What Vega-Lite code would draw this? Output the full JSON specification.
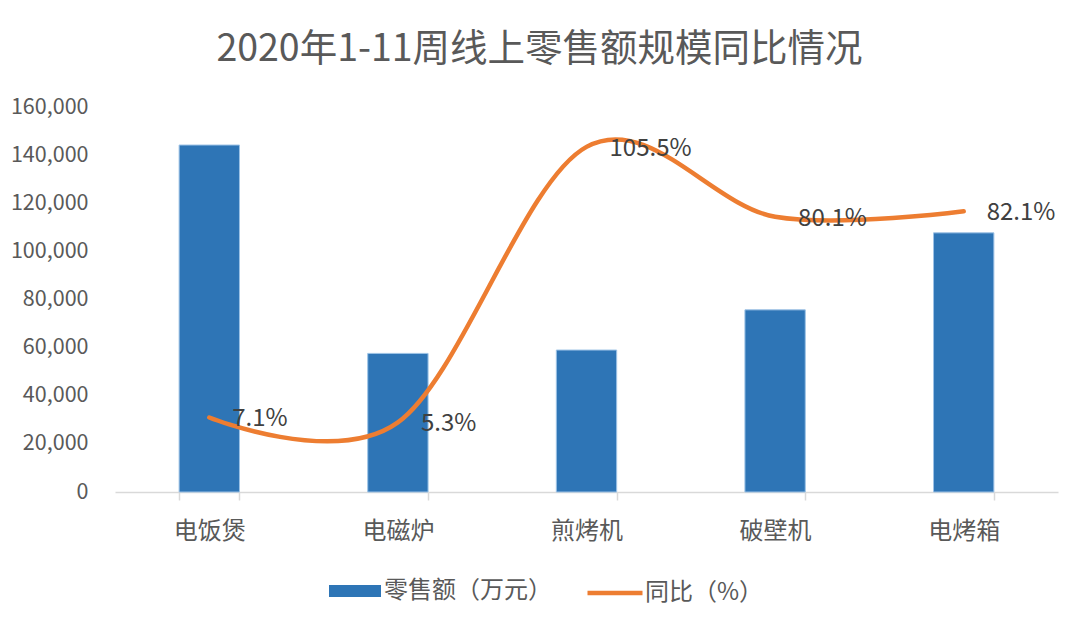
{
  "$schema": "https://vega.github.io/schema/vega-lite/v6.json",
  "width": 943,
  "height": 385,
  "autosize": {"type": "none"},
  "padding": {"left": 115, "top": 107, "right": 22, "bottom": 130},
  "background": "white",
  "config": {"view": {"stroke": null}, "font": "Noto Sans CJK SC"},
  "title": {
    "text": "2020年1-11周线上零售额规模同比情况",
    "fontSize": 37.5,
    "fontWeight": "normal",
    "color": "#595959",
    "anchor": "middle",
    "dx": -47,
    "offset": 28
  },
  "data": {
    "values": [
      {"category": "电饭煲", "sales": 144200, "yoy": 7.1, "label": "7.1%"},
      {"category": "电磁炉", "sales": 57600, "yoy": 5.3, "label": "5.3%"},
      {"category": "煎烤机", "sales": 59000, "yoy": 105.5, "label": "105.5%"},
      {"category": "破壁机", "sales": 75700, "yoy": 80.1, "label": "80.1%"},
      {"category": "电烤箱", "sales": 107700, "yoy": 82.1, "label": "82.1%"}
    ]
  },
  "encoding": {
    "x": {
      "field": "category",
      "type": "nominal",
      "sort": null,
      "scale": {"paddingInner": 0.68, "paddingOuter": 0.34},
      "axis": {
        "title": null,
        "labelAngle": 0,
        "labelFontSize": 24,
        "labelColor": "#595959",
        "labelPadding": 19,
        "domainColor": "#D9D9D9",
        "domainWidth": 1.5,
        "ticks": true,
        "tickBand": "extent",
        "tickSize": 8,
        "tickColor": "#D9D9D9",
        "tickWidth": 1.5,
        "grid": false
      }
    }
  },
  "layer": [
    {
      "mark": {"type": "bar", "stroke": "#9DC3E6", "strokeWidth": 1},
      "encoding": {
        "y": {
          "field": "sales",
          "type": "quantitative",
          "scale": {"domain": [0, 160000], "nice": false},
          "axis": {
            "title": null,
            "values": [0, 20000, 40000, 60000, 80000, 100000, 120000, 140000, 160000],
            "format": ",.0f",
            "labelFontSize": 21.5,
            "labelColor": "#595959",
            "labelPadding": 27,
            "domain": false,
            "ticks": false,
            "grid": false
          }
        },
        "fill": {
          "datum": "零售额（万元）",
          "type": "nominal",
          "scale": {"domain": ["零售额（万元）"], "range": ["#2E75B6"]},
          "legend": {
            "title": null,
            "orient": "none",
            "legendX": 214,
            "legendY": 458,
            "direction": "horizontal",
            "symbolType": "M-1,-0.23H1V0.23H-1Z",
            "symbolSize": 2704,
            "symbolStrokeWidth": 0,
            "symbolOpacity": 1,
            "labelFontSize": 24,
            "labelColor": "#595959",
            "labelOffset": 3,
            "labelLimit": 400
          }
        }
      }
    },
    {
      "encoding": {
        "y": {
          "field": "yoy",
          "type": "quantitative",
          "scale": {"domain": [-20, 120], "nice": false},
          "axis": null
        }
      },
      "layer": [
        {
          "mark": {"type": "line", "interpolate": "cardinal", "tension": 0, "strokeWidth": 4.5, "strokeCap": "round"},
          "encoding": {
            "stroke": {
              "datum": "同比（%）",
              "type": "nominal",
              "scale": {"domain": ["同比（%）"], "range": ["#ED7D31"]},
              "legend": {
                "title": null,
                "orient": "none",
                "legendX": 470,
                "legendY": 456,
                "direction": "horizontal",
                "symbolType": "stroke",
                "symbolSize": 3025,
                "symbolStrokeWidth": 4.5,
                "symbolOpacity": 1,
                "labelFontSize": 24,
                "labelColor": "#595959",
                "labelOffset": 0,
                "labelLimit": 400
              }
            }
          }
        },
        {
          "mark": {"type": "text", "align": "left", "baseline": "middle", "dx": 23, "dy": 2, "fontSize": 24, "color": "#404040"},
          "encoding": {"text": {"field": "label"}}
        }
      ]
    }
  ],
  "resolve": {"scale": {"y": "independent"}}
}
